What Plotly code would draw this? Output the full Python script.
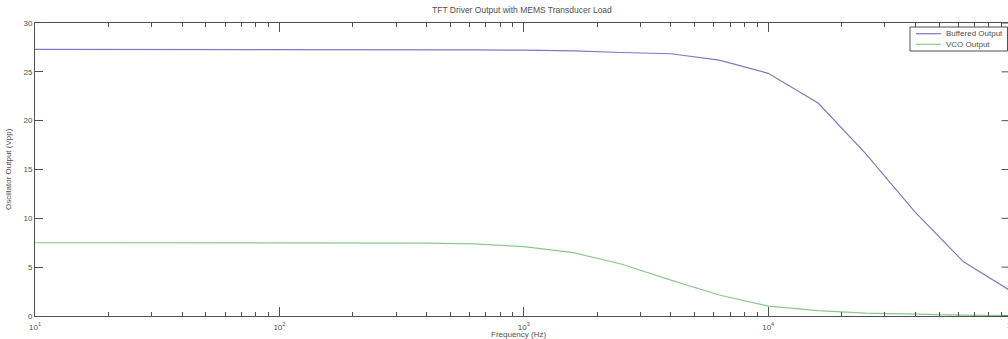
import plotly.graph_objects as go

# ---- data ----
freq_hz = [10, 16, 25, 40, 63, 100, 160, 250, 400, 630, 1000, 1600, 2500, 4000,
           6300, 10000, 16000, 25000, 40000, 63000, 100000]
buffered_vpp = [27.3, 27.3, 27.3, 27.3, 27.3, 27.3, 27.3, 27.28, 27.27, 27.25, 27.22, 27.15,
                26.98, 26.85, 26.2, 24.85, 21.8, 16.65, 10.6, 5.55, 2.45]
vco_vpp = [7.5, 7.5, 7.5, 7.5, 7.5, 7.5, 7.5, 7.48, 7.47, 7.38, 7.1, 6.48,
           5.32, 3.68, 2.15, 1.02, 0.55, 0.3, 0.15, 0.08, 0.05]
series_names = ["Buffered Output", "VCO Output"]
series_colors = ["#7b7bc2", "#8cc88c"]
major_ticks = [10, 100, 1000, 10000, 100000]
major_labels = ["10<sup>1</sup>", "10<sup>2</sup>", "10<sup>3</sup>", "10<sup>4</sup>", "10<sup>5</sup>"]
minor_ticks = [m * d for d in [10, 100, 1000, 10000] for m in range(2, 10)]
y_ticks = [0, 5, 10, 15, 20, 25, 30]

W, H = 1008, 339
L, R, T, B = 35, 0, 23, 23
FONT = "Liberation Sans, Arial, Helvetica, sans-serif"
TXT = "#505050"
AX = "#505050"
DECADE_PX = 244.4

fig = go.Figure()
for name, ys, col in zip(series_names, [buffered_vpp, vco_vpp], series_colors):
    fig.add_trace(go.Scatter(x=freq_hz, y=ys, mode="lines", name=name,
                             line=dict(color=col, width=1.2), showlegend=False))

pw = W - L - R
ph = H - T - B
def px_x(x):
    return (x - L) / pw
def px_y(y):
    return (H - B - y) / ph

fig.update_layout(
    width=W, height=H,
    margin=dict(l=L, r=R, t=T, b=B, pad=0),
    paper_bgcolor="white", plot_bgcolor="white",
    font=dict(family=FONT, size=8, color=TXT),
    xaxis=dict(type="log", range=[1, 1 + pw / DECADE_PX],
               tickmode="array", tickvals=major_ticks, ticktext=major_labels,
               ticks="inside", ticklen=9, tickcolor=AX, tickwidth=1,
               showline=True, linecolor=AX, linewidth=1, mirror="ticks",
               showgrid=False, zeroline=False, ticklabelstandoff=3,
               minor=dict(tickmode="array", tickvals=minor_ticks, ticks="inside",
                          ticklen=4, tickcolor=AX, tickwidth=1, showgrid=False),
               tickfont=dict(size=8, color=TXT)),
    yaxis=dict(range=[0, 30], tickmode="array", tickvals=y_ticks,
               ticks="inside", ticklen=8, tickcolor=AX, tickwidth=1,
               showline=True, linecolor=AX, linewidth=1,
               showgrid=False, zeroline=False,
               tickfont=dict(size=8, color=TXT)),
    showlegend=False,
)

# right-side y ticks (the right axis edge itself lies just beyond the window)
for yv in y_ticks:
    fig.add_shape(type="line", xref="paper", yref="y",
                  x0=px_x(1001.5), x1=px_x(1008), y0=yv, y1=yv,
                  line=dict(color=AX, width=1))

# partially visible 10^5 label at the clipped right edge (axis end lies at ~1013 px)
fig.add_annotation(text="10<sup>5</sup>", xref="paper", yref="paper",
                   x=px_x(L + 4 * DECADE_PX), y=px_y(325),
                   showarrow=False, xanchor="center", yanchor="middle",
                   font=dict(size=8, color=TXT))

# title & axis labels
fig.add_annotation(text="TFT Driver Output with MEMS Transducer Load", xref="paper", yref="paper",
                   x=px_x(522), y=px_y(10), showarrow=False, xanchor="center", yanchor="middle",
                   font=dict(size=8.5, color=TXT))
fig.add_annotation(text="Frequency (Hz)", xref="paper", yref="paper",
                   x=px_x(518), y=px_y(334), showarrow=False, xanchor="center", yanchor="middle",
                   font=dict(size=8, color=TXT))
fig.add_annotation(text="Oscillator Output (Vpp)", xref="paper", yref="paper",
                   x=px_x(8), y=px_y(169), showarrow=False, xanchor="center", yanchor="middle",
                   textangle=-90, font=dict(size=8, color=TXT))

# manual legend box (MATLAB style)
fig.add_shape(type="rect", xref="paper", yref="paper",
              x0=px_x(910), x1=px_x(1007.5), y0=px_y(51), y1=px_y(27),
              line=dict(color=AX, width=1), fillcolor="white", layer="above")
for i, (name, col) in enumerate(zip(series_names, series_colors)):
    yy = 33.7 + i * 10.6
    fig.add_shape(type="line", xref="paper", yref="paper",
                  x0=px_x(916), x1=px_x(941), y0=px_y(yy), y1=px_y(yy),
                  line=dict(color=col, width=1.2), layer="above")
    fig.add_annotation(text=name, xref="paper", yref="paper", x=px_x(944), y=px_y(yy),
                       showarrow=False, xanchor="left", yanchor="middle",
                       font=dict(size=8, color=TXT))

fig.write_html("out.html")
